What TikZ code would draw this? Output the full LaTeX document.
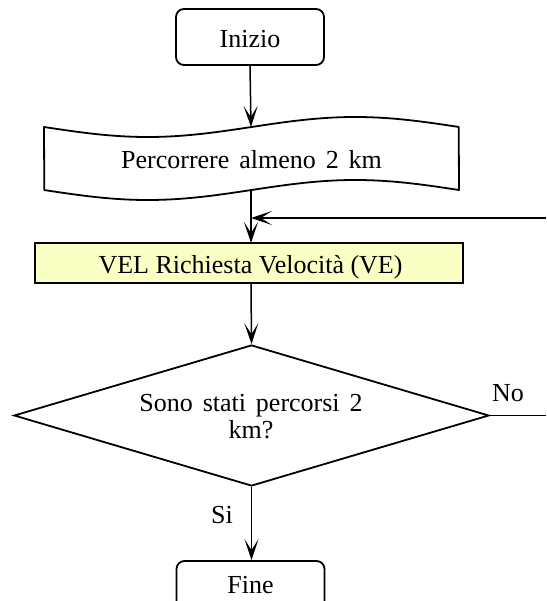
\documentclass[tikz,border=0pt]{standalone}
\usepackage{fontspec}
\setmainfont{Liberation Serif}
\usetikzlibrary{arrows.meta,shapes.geometric}
\definecolor{velfill}{RGB}{250,255,196}
\newcommand\mywidesp{\spaceskip=0.38em plus 0.1em\relax}
\tikzset{
  conn/.style={line width=1.5pt,-{Stealth[length=21pt,width=14pt,inset=11pt]}},
  plainconn/.style={line width=1.5pt},
  term/.style={draw,line width=1.8pt,rounded corners=8pt,minimum width=148pt,minimum height=56pt,inner sep=0pt},
  procbox/.style={draw,line width=2.6pt,fill=velfill,minimum width=428pt,minimum height=40pt,inner sep=0pt},
  decbox/.style={draw,diamond,line width=1.8pt,minimum width=475pt,minimum height=141pt,aspect=3.37,inner sep=0pt},
  txt/.style={inner sep=0pt,anchor=base,align=center,font={\fontsize{26}{26.5}\selectfont}},
  widetxt/.style={txt,font={\fontsize{26}{26.5}\selectfont\mywidesp}}
}
\begin{document}
\begin{tikzpicture}[x=1pt,y=-1pt]
\useasboundingbox (0,0) rectangle (546,601);
\begin{scope}
\clip (0,0) rectangle (546,601);
% Start
\node[term] (start) at (250,37) {};
\node[txt] (starttxt) at (250,47.7) {Inizio};
% Tape shape
\draw[line width=1.8pt,line join=round]
  plot[domain=0:1,samples=60,smooth] ({44+415*\x},{127+10*sin(360*\x)})
  -- plot[domain=1:0,samples=60,smooth] ({44+415*\x},{190+10*sin(360*\x)})
  -- cycle;
\node[widetxt] (tape) at (251.5,169) {Percorrere almeno 2 km};
\coordinate (tapeTop) at (251,127);
\coordinate (tapeBot) at (251,190);
% Process
\node[procbox] (vel) at (249,263) {};
\node[txt] (veltxt) at (250.5,273) {VEL Richiesta Velocità (VE)};
\coordinate (velTop) at (251,243);
\coordinate (velBot) at (251,283);
\coordinate (loopJ) at (251,218);
\coordinate (loopR) at (546,218);
% Decision
\node[decbox] (dec) at (251.5,415.5) {};
\node[widetxt] (dectxt) at (251,438) {Sono stati percorsi 2\\km?};
\coordinate (noEnd) at (546,415.5);
% End
\node[term] (fine) at (250.5,589) {};
\node[txt] (finetxt) at (250.5,593) {Fine};
% Connectors
\draw[conn] (start.south) -- (tapeTop);
\draw[conn] (tapeBot) -- (velTop);
\draw[conn] (loopR) -- (loopJ);
\draw[conn] (velBot) -- (dec.north);
\draw[conn] (dec.south) -- (dec.south |- fine.north);
\draw[plainconn] (dec.east) -- (noEnd);
\node[txt] (no) at (508,401) {No};
\node[txt] (si) at (222,523) {Si};
\end{scope}
\end{tikzpicture}
\end{document}
